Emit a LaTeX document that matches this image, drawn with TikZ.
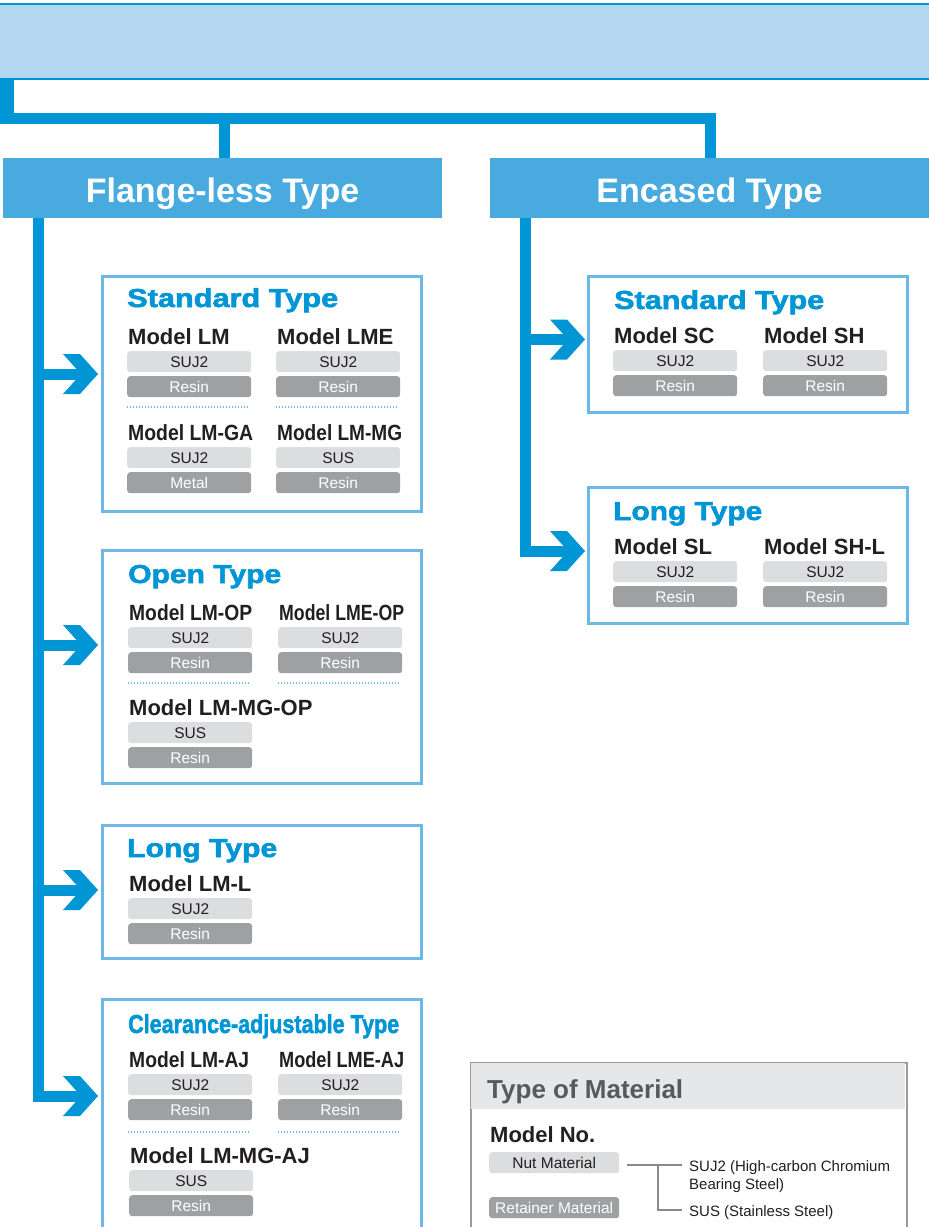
\documentclass[tikz,border=0pt]{standalone}
\usepackage{fontspec}
\setmainfont{Liberation Sans}
\newfontfamily\heavyfont{Liberation Sans}[BoldFeatures={FakeBold=2}]
\usepackage{graphicx}
\definecolor{cblue}{HTML}{0096D6}
\definecolor{chead}{HTML}{48AADF}
\definecolor{cbanner}{HTML}{B3D7F0}
\definecolor{cframe}{HTML}{6CB9E8}
\definecolor{cgl}{HTML}{DCDDDE}
\definecolor{cgd}{HTML}{9FA0A2}
\definecolor{ctxt}{HTML}{231F20}
\definecolor{legb}{HTML}{9A9A9A}
\definecolor{leghd}{HTML}{E6E7E8}
\definecolor{legt}{HTML}{58595B}
\definecolor{legline}{HTML}{8A8A8A}
\newlength\fitlen
\newcommand\fitto[2]{\settowidth\fitlen{#2}\ifdim\fitlen>#1\relax\resizebox{#1}{\height}{#2}\else#2\fi}
\newcommand\ttlw[2]{\resizebox{#1}{\height}{#2}}
% unit: name, x, baseline y, max label width, label, material 1, material 2
\newcommand\unit[7]{%
  \node[mlab] (#1) at (#2,#3) {\fitto{#4}{#5}};
  \node[barL] (#1n) at (#2-1,#3+7) {#6};
  \node[barD] (#1r) at (#2-1,#3+32) {#7};
}
\tikzset{
  conn/.style={draw=cblue, line width=11pt, line join=miter},
  banner/.style={fill=cbanner, minimum width=935pt, minimum height=75pt, inner sep=0pt},
  hdr/.style={fill=chead, text=white, font=\fontsize{34}{40}\selectfont\bfseries,
    minimum width=439pt, minimum height=60pt, inner sep=0pt, text height=28pt, text depth=0pt},
  frame/.style={draw=cframe, line width=2.5pt, anchor=north west, inner sep=0pt},
  ttl/.style={text=cblue, font=\heavyfont\fontsize{26}{30}\selectfont\bfseries, anchor=base west, inner sep=0pt},
  mlab/.style={text=ctxt, font=\fontsize{22}{26}\selectfont\bfseries, anchor=base west, inner sep=0pt},
  barL/.style={fill=cgl, rounded corners=3pt, minimum width=124pt, minimum height=21pt,
    inner sep=0pt, anchor=north west, text=ctxt, font=\fontsize{15.5}{18}\selectfont,
    text height=11pt, text depth=0pt},
  barD/.style={barL, fill=cgd, text=white},
  dotsep/.style={draw=cframe, line width=2pt, dash pattern=on 1.3pt off 1.7pt},
  chev/.pic={\fill[cblue] (-35,-20) -- (-18,-20) -- (0,0) -- (-18,20) -- (-35,20) -- (-17,0) -- cycle;},
  legtxt/.style={text=ctxt, font=\fontsize{15}{18}\selectfont, anchor=base west, inner sep=0pt},
}
\begin{document}
\begin{tikzpicture}[x=1pt,y=-1pt]
\useasboundingbox (0,0) rectangle (929,1227);

% banner
\node[banner] (top) at (464.5,41.5) {};
\draw[cblue, line width=2.5pt] (top.north west) -- (top.north east);
\draw[cblue, line width=2.5pt] (top.south west) -- (top.south east);

% headers
\node[hdr] (fl) at (222.5,188) {Flange-less Type};
\node[hdr] (en) at (709.5,188) {Encased Type};

% top connectors
\draw[cblue, line width=17pt] ([xshift=8.5pt]top.south west) -- ++(0,45);
\coordinate (hub) at (0,118.5);
\draw[conn] (hub) -| ([xshift=2pt]fl.north);
\draw[conn] (hub) -| ([xshift=1pt]en.north);

% left trunk and arrows
\coordinate (lx) at (38.5,0);
\coordinate (a1) at (84,374);
\coordinate (a2) at (84,645);
\coordinate (a3) at (84,890);
\coordinate (a4) at (84,1096);
\draw[conn] (fl.south -| lx) |- (a4);
\draw[conn] (a1 -| lx) -- (a1);
\draw[conn] (a2 -| lx) -- (a2);
\draw[conn] (a3 -| lx) -- (a3);
\pic at (98,374) {chev};
\pic at (98,645) {chev};
\pic at (98,890) {chev};
\pic at (98,1096) {chev};

% right trunk and arrows
\coordinate (rx) at (525.5,0);
\coordinate (b1) at (571,339.5);
\coordinate (b2) at (571,551);
\draw[conn] (en.south -| rx) |- (b2);
\draw[conn] (b1 -| rx) -- (b1);
\pic at (585,339.5) {chev};
\pic at (585,551) {chev};

% ---------- left: Standard Type
\node[frame, minimum width=319pt, minimum height=235pt] (fstd) at (101,275) {};
\node[ttl] (tstd) at (127,307) {\ttlw{211pt}{Standard Type}};
\unit{lm}{128}{344}{125pt}{Model LM}{SUJ2}{Resin}
\unit{lme}{277}{344}{125pt}{Model LME}{SUJ2}{Resin}
\draw[dotsep] (127,407) -- (248,407);
\draw[dotsep] (276,407) -- (398,407);
\unit{lmga}{128}{440}{125pt}{Model LM-GA}{SUJ2}{Metal}
\unit{lmmg}{277}{440}{125pt}{Model LM-MG}{SUS}{Resin}

% ---------- left: Open Type
\node[frame, minimum width=319pt, minimum height=233pt] (fopen) at (101,549) {};
\node[ttl] (topen) at (128,583) {\ttlw{153pt}{Open Type}};
\unit{lmop}{129}{620}{123pt}{Model LM-OP}{SUJ2}{Resin}
\unit{lmeop}{279}{620}{125pt}{Model LME-OP}{SUJ2}{Resin}
\draw[dotsep] (128,683) -- (249,683);
\draw[dotsep] (278,683) -- (400,683);
\unit{lmmgop}{129}{715}{300pt}{Model LM-MG-OP}{SUS}{Resin}

% ---------- left: Long Type
\node[frame, minimum width=319pt, minimum height=133pt] (flong) at (101,824) {};
\node[ttl] (tlong) at (127,857) {\ttlw{150pt}{Long Type}};
\unit{lml}{129}{891}{300pt}{Model LM-L}{SUJ2}{Resin}

% ---------- left: Clearance-adjustable Type
\node[frame, minimum width=319pt, minimum height=245pt] (fclr) at (101,998) {};
\node[ttl] (tclr) at (128,1033) {\ttlw{271pt}{Clearance-adjustable Type}};
\unit{lmaj}{129}{1067}{120pt}{Model LM-AJ}{SUJ2}{Resin}
\unit{lmeaj}{279}{1067}{125pt}{Model LME-AJ}{SUJ2}{Resin}
\draw[dotsep] (128,1132) -- (249,1132);
\draw[dotsep] (278,1132) -- (400,1132);
\unit{lmmgaj}{130}{1163}{300pt}{Model LM-MG-AJ}{SUS}{Resin}

% ---------- right: Standard Type
\node[frame, minimum width=319pt, minimum height=136pt] (rstd) at (587,275) {};
\node[ttl] (trstd) at (614,309) {\ttlw{210pt}{Standard Type}};
\unit{sc}{614}{343}{125pt}{Model SC}{SUJ2}{Resin}
\unit{sh}{764}{343}{125pt}{Model SH}{SUJ2}{Resin}

% ---------- right: Long Type
\node[frame, minimum width=319pt, minimum height=136pt] (rlong) at (587,486) {};
\node[ttl] (trlong) at (613,520) {\ttlw{149pt}{Long Type}};
\unit{sl}{614}{554}{125pt}{Model SL}{SUJ2}{Resin}
\unit{shl}{764}{554}{125pt}{Model SH-L}{SUJ2}{Resin}

% ---------- legend
\node[draw=legb, line width=2pt, fill=white, anchor=north west, inner sep=0pt,
      minimum width=436pt, minimum height=190pt] (leg) at (470,1062) {};
\node[fill=leghd, anchor=north west, inner sep=0pt, minimum width=434pt, minimum height=46pt] (leghead) at (471,1063) {};
\node[anchor=base west, inner sep=0pt, text=legt, font=\fontsize{26}{30}\selectfont\bfseries] (legtitle) at (487,1098) {Type of Material};
\node[mlab] (modelno) at (490,1142) {Model No.};
\node[barL, minimum width=130pt] (nut) at (489,1152) {Nut Material};
\node[barD, minimum width=130pt] (ret) at (489,1197) {Retainer Material};
\node[legtxt] (s1) at (689,1171) {SUJ2 (High-carbon Chromium};
\node[legtxt] (s1b) at (689,1189) {Bearing Steel)};
\node[legtxt] (s2) at (689,1216) {SUS (Stainless Steel)};
\coordinate (e1) at (682,1165);
\coordinate (e2) at (682,1210);
\draw[draw=legline, line width=1.4pt] ([xshift=8pt]nut.east |- e1) -- (e1);
\draw[draw=legline, line width=1.4pt] (658,1165) |- (e2);
\end{tikzpicture}
\end{document}
